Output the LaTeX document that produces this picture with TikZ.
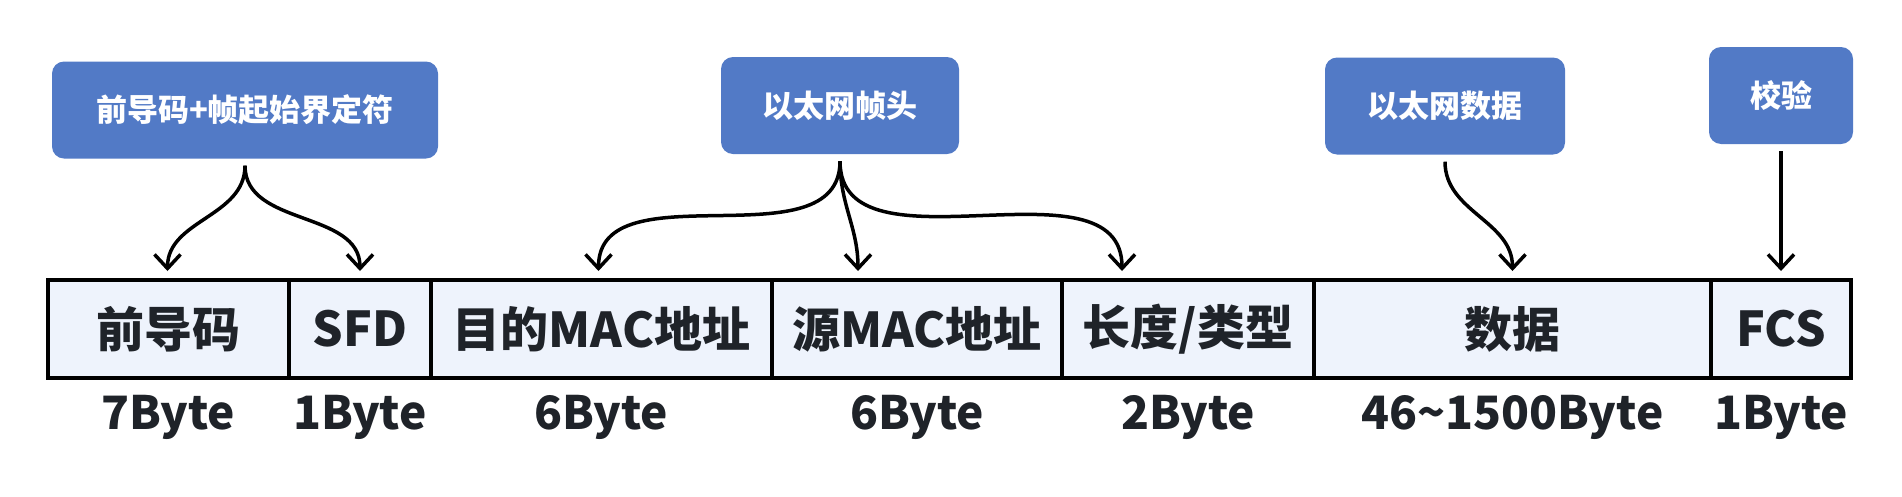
\documentclass[tikz,border=0pt]{standalone}
\usepackage{fontspec}
\setmainfont{Noto Sans CJK SC}
\usetikzlibrary{arrows.meta}
\definecolor{tagblue}{HTML}{527AC6}
\definecolor{cellfill}{HTML}{EEF3FC}
\definecolor{inkdark}{HTML}{1F2329}
\def\tagnode{\node[tag]}
\def\cellnode{\node[cell]}
\def\sizenode{\node[size]}
\def\drawpoint{\draw[point]}

\begin{document}
\begin{tikzpicture}[x=1pt,y=-1pt,
  tag/.style={rectangle,rounded corners=12pt,fill=tagblue,text=white,
    font=\fontsize{31}{31}\selectfont\bfseries,inner sep=0pt,minimum height=97pt},
  cell/.style={rectangle,draw=black,line width=4pt,fill=cellfill,minimum height=98pt,
    text=inkdark,font=\fontsize{48}{48}\selectfont\bfseries,inner sep=0pt},
  size/.style={text=inkdark,font=\fontsize{46}{46}\selectfont\bfseries,inner sep=0pt},
  point/.style={line width=3.5pt,-{Straight Barb[length=14pt,width=26pt]}}]
\useasboundingbox (0,0) rectangle (1902,496);
% tags on top
\tagnode[minimum width=386pt] (pre) at (245,110) {前导码+帧起始界定符};
\tagnode[minimum width=238pt] (head) at (840,105.5) {以太网帧头};
\tagnode[minimum width=240pt] (load) at (1445,106) {以太网数据};
\tagnode[minimum width=144pt] (check) at (1781,95.5) {校验};
% frame fields
\cellnode[minimum width=241pt] (preamble) at (168.5,329) {前导码};
\cellnode[minimum width=142pt] (sfd) at (360,329) {SFD};
\cellnode[minimum width=341pt] (dst) at (601.5,329) {目的MAC地址};
\cellnode[minimum width=290pt] (src) at (917,329) {源MAC地址};
\cellnode[minimum width=252pt] (type) at (1188,329) {长度/类型};
\cellnode[minimum width=397pt] (data) at (1512.5,329) {数据};
\cellnode[minimum width=140pt] (fcs) at (1781,329) {FCS};
% field sizes
\sizenode (s1) at (168.5,417) {7Byte};
\sizenode (s2) at (360,417) {1Byte};
\sizenode (s3) at (601.5,417) {6Byte};
\sizenode (s4) at (917,417) {6Byte};
\sizenode (s5) at (1188,417) {2Byte};
\sizenode (s6) at (1512.5,417) {46\char"007E 1500Byte};
\sizenode (s7) at (1781,417) {1Byte};
% arrows
\drawpoint ([yshift=-7pt]pre.south) to[out=-90,in=90] ([xshift=-1pt,yshift=7pt]preamble.north);
\drawpoint ([yshift=-7pt]pre.south) to[out=-90,in=90] ([yshift=7pt]sfd.north);
\drawpoint ([yshift=-7pt]head.south) to[out=-90,in=90] ([xshift=-3pt,yshift=7pt]dst.north);
\drawpoint ([yshift=-7pt]head.south) to[out=-90,in=90] ([xshift=-59pt,yshift=7pt]src.north);
\drawpoint ([yshift=-7pt]head.south) to[out=-90,in=90] ([xshift=-66pt,yshift=7pt]type.north);
\drawpoint ([yshift=-7pt]load.south) to[out=-90,in=90] ([yshift=7pt]data.north);
\drawpoint ([yshift=-7pt]check.south) -- ([yshift=7pt]fcs.north);
\end{tikzpicture}
\end{document}
